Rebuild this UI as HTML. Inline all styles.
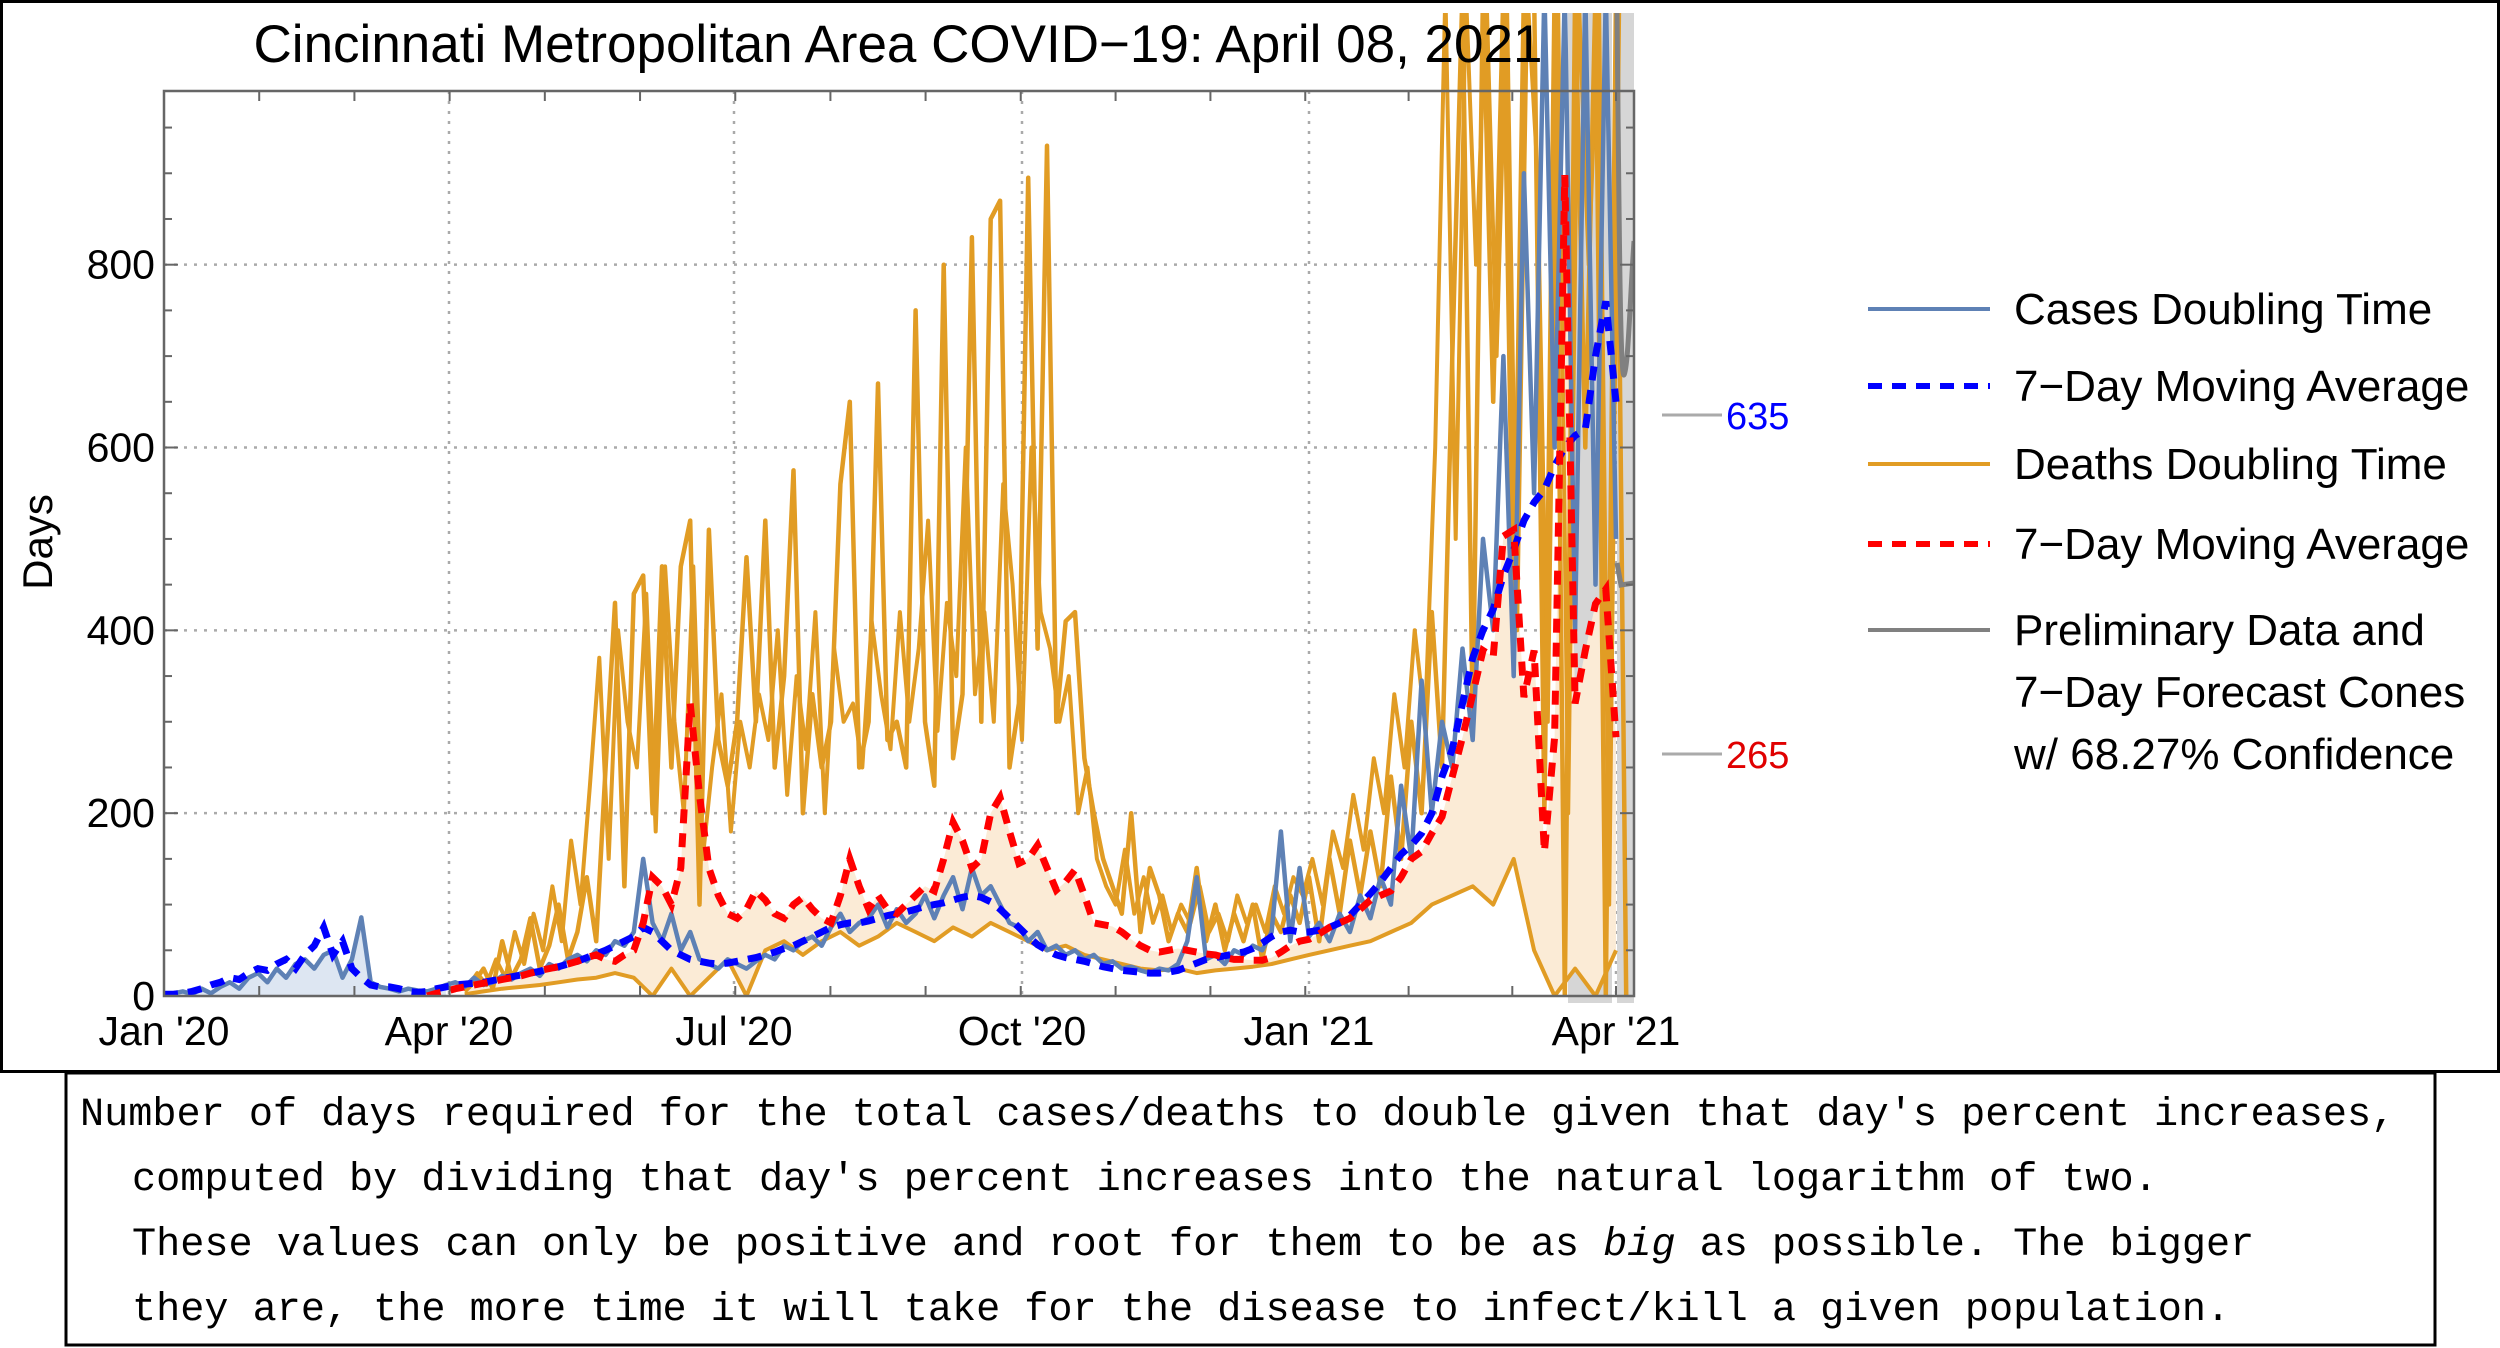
<!DOCTYPE html>
<html><head><meta charset="utf-8"><style>
html,body{margin:0;padding:0;background:#fff;}
#wrap{position:relative;width:2500px;height:1348px;overflow:hidden;background:#fff;}
svg{position:absolute;left:0;top:0;}
</style></head><body>
<div id="wrap">
<svg id="chart" width="2500" height="1348" viewBox="0 0 2500 1348">
  <rect x="1.5" y="1.5" width="2497" height="1070" fill="none" stroke="#000" stroke-width="3"/>
  <rect x="66" y="1073" width="2369" height="272" fill="none" stroke="#000" stroke-width="3"/>
  <g id="grid"></g>
  <g id="bands"></g>
  <g id="series" clip-path="url(#clip)"></g>
  <g id="axes"></g>
  <defs><clipPath id="clip"><rect x="164" y="13" width="1470" height="983"/></clipPath></defs>
  <text x="898" y="62" text-anchor="middle" font-family="Liberation Sans, sans-serif" font-size="53" fill="#000">Cincinnati Metropolitan Area COVID&#8722;19: April 08, 2021</text>
  <text transform="translate(52,542) rotate(-90)" text-anchor="middle" font-family="Liberation Sans, sans-serif" font-size="42" fill="#000">Days</text>
  <g>
    <line x1="1662" y1="415" x2="1722" y2="415" stroke="#aaa" stroke-width="3"/>
    <text x="1726" y="429" font-family="Liberation Sans, sans-serif" font-size="38" fill="#0000ff">635</text>
    <line x1="1662" y1="754" x2="1722" y2="754" stroke="#aaa" stroke-width="3"/>
    <text x="1726" y="768" font-family="Liberation Sans, sans-serif" font-size="38" fill="#e00000">265</text>
  </g>
  <g font-family="Liberation Sans, sans-serif" font-size="44" fill="#000">
    <g><line x1="1868" y1="309" x2="1990" y2="309" stroke="#5E81B5" stroke-width="4"/><text x="2014" y="324">Cases Doubling Time</text></g>
    <g><line x1="1868" y1="386" x2="1990" y2="386" stroke="#0000ff" stroke-width="6" stroke-dasharray="14,10"/><text x="2014" y="401">7&#8722;Day Moving Average</text></g>
    <g><line x1="1868" y1="464" x2="1990" y2="464" stroke="#E19C24" stroke-width="4"/><text x="2014" y="479">Deaths Doubling Time</text></g>
    <g><line x1="1868" y1="544" x2="1990" y2="544" stroke="#ff0000" stroke-width="6" stroke-dasharray="14,10"/><text x="2014" y="559">7&#8722;Day Moving Average</text></g>
    <g><line x1="1868" y1="630" x2="1990" y2="630" stroke="#808080" stroke-width="4"/><text x="2014" y="645">Preliminary Data and</text><text x="2014" y="707">7&#8722;Day Forecast Cones</text><text x="2014" y="769">w/ 68.27% Confidence</text></g>
  </g>
  <g font-family="Liberation Mono, monospace" font-size="40.2" fill="#000">
    <text x="80" y="1125">Number of days required for the total cases/deaths to double given that day's percent increases,</text>
    <text x="132" y="1190">computed by dividing that day's percent increases into the natural logarithm of two.</text>
    <text x="132" y="1255">These values can only be positive and root for them to be as <tspan font-style="italic">big</tspan> as possible. The bigger</text>
    <text x="132" y="1320">they are, the more time it will take for the disease to infect/kill a given population.</text>
  </g>
</svg>
</div>
<script>
// ---- data (days since Jan 1 2020; values in days) ----
const xTickLabels = ["Jan '20","Apr '20","Jul '20","Oct '20","Jan '21","Apr '21"];
const xTickDays = [0,91,182,274,366,456];
const yTickValues = [0,200,400,600,800];
const casesStart = 0, casesStep = 3;
const casesVals = [2,3,5,2,8,3,10,15,8,20,25,15,30,20,35,40,30,45,50,20,40,86,15,10,8,5,8,6,5,8,12,15,10,20,12,15,22,18,25,30,22,35,30,40,45,38,50,45,60,55,70,150,80,60,90,50,70,40,35,30,40,35,30,38,45,40,55,50,60,65,55,75,90,70,80,85,100,75,95,80,90,110,85,110,130,95,140,110,120,100,80,75,60,70,50,55,45,50,40,45,35,38,30,32,28,25,30,28,35,60,130,40,45,35,50,45,55,50,70,180,60,140,65,80,60,90,70,110,85,130,100,230,150,345,200,300,250,380,280,500,400,700,350,900,550,1100,600,1100,400,1100,450,1100,500];
const casesMaStart = 0, casesMaStep = 3;
const casesMaVals = [2,2,3,5,8,12,15,20,18,25,30,28,35,40,30,45,55,75,45,60,30,20,12,10,10,8,5,4,5,8,10,12,13,14,15,17,19,21,23,25,27,30,32,35,38,42,46,50,55,60,65,75,70,60,50,45,40,38,36,35,36,38,40,42,45,48,52,55,60,65,70,75,78,80,80,82,85,88,90,92,95,98,100,102,105,108,110,108,103,95,85,75,65,56,50,45,42,40,38,35,32,30,28,27,26,25,25,26,28,32,36,40,42,44,46,48,52,58,65,70,72,70,70,72,75,80,88,100,112,125,140,155,165,178,200,240,270,320,370,400,423,460,488,520,540,554,580,600,613,620,700,760,650];
const deathsStart = 96, deathsStep = 3;
const deathsVals = [5,15,30,8,60,20,40,85,30,55,100,40,70,130,60,250,430,120,440,460,200,470,250,470,520,100,510,280,230,300,480,300,520,250,350,575,200,330,250,300,560,650,250,300,670,280,300,250,750,300,230,800,260,330,830,300,850,870,250,320,895,380,930,300,410,420,260,200,150,120,90,200,70,140,110,60,90,70,140,60,100,50,90,60,100,40,90,70,110,80,130,60,150,90,170,110,180,120,240,150,300,200,420,250,700,1100,300,1100,650,1100,400,1100,1100,200,1100,0,1100,600,1100,0,1100,0];
const deaths2Start = 97, deaths2Step = 3;
const deaths2Vals = [10,25,12,40,20,70,35,90,50,120,60,170,100,230,370,150,400,300,250,440,180,470,300,200,470,150,250,330,180,300,250,330,280,400,220,350,270,420,200,380,300,320,250,410,330,270,420,300,380,520,290,430,350,600,330,420,300,560,450,280,600,420,380,300,350,200,250,150,120,100,160,90,130,80,110,70,100,80,120,70,90,60,110,80,100,70,120,90,130,110,150,100,180,140,220,160,260,200,330,250,400,300,600,1100,500,1100,800,1100,700,1100,400,1100,900,300,1100,200,1100,800,1100,100,1100];
const deathsLowStart = 96, deathsLowStep = 6;
const deathsLowVals = [2,5,8,10,12,15,18,20,25,20,0,30,0,20,40,0,50,60,45,60,70,55,65,80,70,60,75,65,80,70,60,50,55,45,40,35,30,28,30,25,28,30,32,35,40,45,50,55,60,70,80,100,110,120,100,150,50,0,30,0,50];
const deathsMaStart = 84, deathsMaStep = 3;
const deathsMaVals = [0,3,5,8,10,12,14,16,18,20,22,25,28,30,32,35,38,42,45,40,38,45,50,80,130,120,100,140,320,220,140,110,90,85,95,115,105,90,85,100,108,95,85,80,110,150,120,95,110,95,90,100,110,120,115,150,190,170,140,150,200,217,180,145,150,165,140,116,125,138,110,80,78,76,70,62,55,50,48,50,52,50,48,46,45,42,40,40,39,39,42,48,55,60,62,68,75,80,85,95,105,110,115,130,150,158,178,196,240,283,330,378,371,503,510,327,378,158,283,898,320,378,429,445,283];

// ---- axes ----
const X0=164, X1=1634, Y0=996, YTOP=91, VMAX=990;
const tickPx=[164,449,734,1022,1309,1616];
function xScale(d){
  for(let i=0;i<xTickDays.length-1;i++){
    if(d<=xTickDays[i+1]||i===xTickDays.length-2){
      const t=(d-xTickDays[i])/(xTickDays[i+1]-xTickDays[i]);
      return tickPx[i]+t*(tickPx[i+1]-tickPx[i]);
    }
  }
}
function yScale(v){return Y0-(v/VMAX)*(Y0-YTOP);}
const NS="http://www.w3.org/2000/svg";
function mk(tag,attrs,parent){const e=document.createElementNS(NS,tag);for(const k in attrs)e.setAttribute(k,attrs[k]);parent.appendChild(e);return e;}
function pts(start,step,vals){return vals.map((v,i)=>[xScale(start+step*i),yScale(v)]);}
function pathD(p){return p.map((q,i)=>(i?'L':'M')+q[0].toFixed(1)+','+q[1].toFixed(1)).join('');}

const grid=document.getElementById('grid');
yTickValues.forEach(v=>{if(v===0)return;
  const l=mk('line',{x1:X0,x2:X1,y1:yScale(v),y2:yScale(v),stroke:'#aaa','stroke-width':2.5,'stroke-dasharray':'3,7'},grid);
  
  
});
xTickDays.forEach((d,i)=>{if(i===0)return;
  const l=mk('line',{x1:xScale(d),x2:xScale(d),y1:YTOP,y2:Y0,stroke:'#aaa','stroke-width':2.5,'stroke-dasharray':'3,7'},grid);
  
  
});

const bands=document.getElementById('bands');
const b1=mk('rect',{x:1568,y:13,width:44,height:990,fill:'#d6d6d6'},bands);


const b2=mk('rect',{x:1617,y:13,width:17,height:990,fill:'#d6d6d6'},bands);



const S=document.getElementById('series');
const cp=pts(casesStart,casesStep,casesVals).filter((q,i)=>casesStart+casesStep*i<=90);
const cf=mk('path',{d:pathD(cp)+'L'+cp[cp.length-1][0]+','+Y0+'L'+cp[0][0]+','+Y0+'Z',fill:'#dde6f2'},S);


const dm=pts(deathsMaStart,deathsMaStep,deathsMaVals).filter((q,i)=>deathsMaStart+deathsMaStep*i>=96);
const dl=pts(deathsLowStart,deathsLowStep,deathsLowVals).reverse();
const df=mk('path',{d:pathD(dm.concat(dl))+'Z',fill:'#fbebd6'},S);



const deathsLow=mk('path',{d:pathD(pts(deathsLowStart,deathsLowStep,deathsLowVals)),fill:'none',stroke:'#E19C24','stroke-width':4,'stroke-linejoin':'round'},S);


const deaths2=mk('path',{d:pathD(pts(deaths2Start,deaths2Step,deaths2Vals)),fill:'none',stroke:'#E19C24','stroke-width':4,'stroke-linejoin':'round'},S);


const deaths=mk('path',{d:pathD(pts(deathsStart,deathsStep,deathsVals)),fill:'none',stroke:'#E19C24','stroke-width':4.5,'stroke-linejoin':'round'},S);


const cases=mk('path',{d:pathD(pts(casesStart,casesStep,casesVals)),fill:'none',stroke:'#5E81B5','stroke-width':4.5,'stroke-linejoin':'round'},S);


const cma=mk('path',{d:pathD(pts(casesMaStart,casesMaStep,casesMaVals)),fill:'none',stroke:'#0000ff','stroke-width':7,'stroke-dasharray':'14,10'},S);


const dma=mk('path',{d:pathD(pts(deathsMaStart,deathsMaStep,deathsMaVals)),fill:'none',stroke:'#ff0000','stroke-width':7,'stroke-dasharray':'14,10'},S);


const g1=mk('path',{d:'M1617,13 C1619,200 1620,380 1624,375 C1628,370 1630,300 1634,241',fill:'none',stroke:'#808080','stroke-width':5},S);


const g2=mk('path',{d:'M1617,563 L1621,585 L1634,583',fill:'none',stroke:'#808080','stroke-width':5},S);



const A=document.getElementById('axes');
const fr=mk('rect',{x:X0,y:YTOP,width:X1-X0,height:Y0-YTOP,fill:'none',stroke:'#666','stroke-width':2.5},A);


for(let v=0;v<=VMAX;v+=50){
  const major=v%200===0, len=major?14:8;
  mk('line',{x1:X0,x2:X0+len,y1:yScale(v),y2:yScale(v),stroke:'#666','stroke-width':2},A);
  mk('line',{x1:X1,x2:X1-len,y1:yScale(v),y2:yScale(v),stroke:'#666','stroke-width':2},A);
}
for(let d=0;d<=466;d+=30.4){
  mk('line',{x1:xScale(d),x2:xScale(d),y1:Y0,y2:Y0-10,stroke:'#666','stroke-width':2},A);
  mk('line',{x1:xScale(d),x2:xScale(d),y1:YTOP,y2:YTOP+10,stroke:'#666','stroke-width':2},A);
}
yTickValues.forEach(v=>{
  const t=mk('text',{x:155,y:yScale(v)+14,'text-anchor':'end','font-family':'Liberation Sans, sans-serif','font-size':41,fill:'#000'},A);
  t.textContent=String(v);
  
  
});
xTickLabels.forEach((lab,i)=>{
  const t=mk('text',{x:xScale(xTickDays[i]),y:1045,'text-anchor':'middle','font-family':'Liberation Sans, sans-serif','font-size':41,fill:'#000'},A);
  t.textContent=lab;
  
  
});
</script>
</body></html>
